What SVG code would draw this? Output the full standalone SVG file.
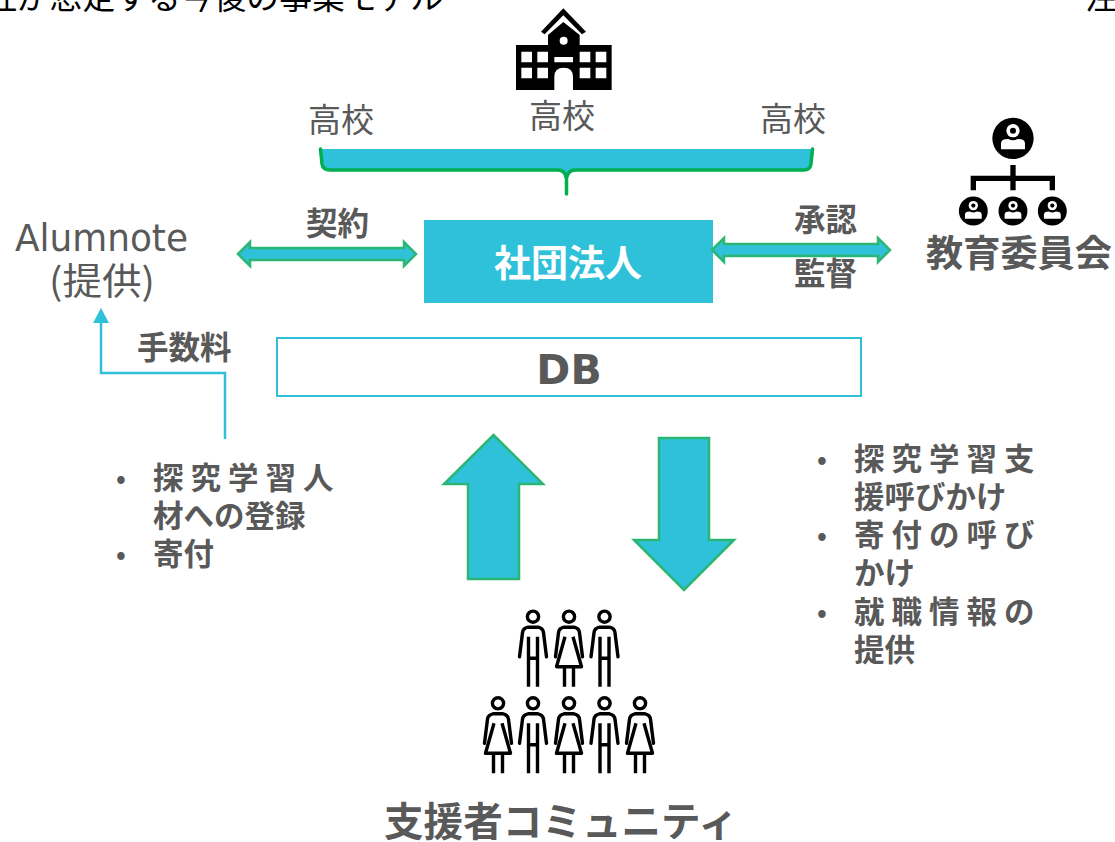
<svg xmlns="http://www.w3.org/2000/svg" xmlns:xlink="http://www.w3.org/1999/xlink" width="1115" height="842" viewBox="0 0 1115 842">
<style>
text{font-family:"Noto Sans CJK JP","DejaVu Sans",sans-serif;fill:#595959}
.b{font-weight:700}
.l{font-size:31.500px;font-weight:700}
.li{font-size:30.500px;font-weight:700}
.dot{font-size:26px;font-weight:700}
.t{font-size:33px;font-weight:400}
.arrow{fill:#2fc1d9;stroke:#2bb673;stroke-width:2.5;stroke-linejoin:miter}
.p{fill:none;stroke:#000;stroke-width:3.400;stroke-linecap:round;stroke-linejoin:round}
</style>
<defs>
<g id="man" class="p">
<circle cx="0" cy="0" r="5.600"/>
<path d="M-13.500 40L-10.500 16Q-10 11.500-5 10.500H5Q10 11.500 10.500 16L13.500 40"/>
<path d="M-4.500 20V70M4.500 20V70M-4.500 41.500H4.500" stroke-linecap="butt"/>
</g>
<g id="woman" class="p">
<circle cx="0" cy="0" r="5.600"/>
<path d="M-13.500 40L-10.500 16Q-10 11.500-5 10.500H5Q10 11.500 10.500 16L13.500 40"/>
<path d="M-4 20L-12.500 50H12.500L4 20M-4.500 50V70M4.500 50V70" stroke-linecap="butt"/>
</g>
<g id="boss">
<circle cx="0" cy="0" r="62" fill="#000"/>
<circle cx="0" cy="-23" r="20" fill="#fff"/>
<circle cx="0" cy="-23" r="9" fill="#000"/>
<path d="M-36 33V16Q-36 5-24 3L-14 2Q0 10 14 2L24 3Q36 5 36 16V33Z" fill="#fff"/>
</g>
</defs>
<text x="-16" y="9" font-size="32.800" style="fill:#000">社が想定する今後の事業モデル</text>
<text x="1085" y="9" font-size="32.800" style="fill:#000">注</text>
<g id="school" transform="translate(480 0) scale(.3333)">
<path d="M108 135H204V105L250 66L299 105V135H395V270H279V230Q279 203 251 203Q223 203 223 230V270H108Z" fill="#000"/>
<path d="M183 95L250 25L318 95L306 103L250 46L194 103Z" fill="#000"/>
<circle cx="251" cy="122" r="12" fill="#fff"/>
<path d="M124 155h32v32h-32zM172 155h32v32h-32zM124 203h32v32h-32zM172 203h32v32h-32zM299 155h32v32h-32zM347 155h32v32h-32zM299 203h32v32h-32zM347 203h32v32h-32zM223 171h56v16h-56z" fill="#fff"/>
</g>
<g id="schools">
<text class="t" x="308" y="132">高校</text>
<text class="t" x="529" y="128">高校</text>
<text class="t" x="760" y="131">高校</text>
<path d="M320 149H813L811 165Q810 170 804 170H575Q568 171 567 178L566.500 194Q566 170 558 170H330Q323 170 322 165Z" fill="#2fc1d9"/>
<path d="M320.500 149L322 164Q323 170 330 170H558Q565 170 566.500 178V194M566.500 194V178Q568 170 575 170H804Q810 170 811 164L812.500 149" fill="none" stroke="#00b050" stroke-width="3.500" stroke-linecap="round"/>
</g>
<g id="committee" transform="translate(920 110) scale(.3333)">
<use xlink:href="#boss" href="#boss" transform="translate(279 85)"/>
<use xlink:href="#boss" href="#boss" transform="translate(160 303) scale(.7)"/>
<use xlink:href="#boss" href="#boss" transform="translate(279 303) scale(.7)"/>
<use xlink:href="#boss" href="#boss" transform="translate(397 303) scale(.7)"/>
<path d="M279 165V241M160 241V205H397V241" fill="none" stroke="#000" stroke-width="16"/>
</g>
<text class="b" x="926" y="267" font-size="37.200">教育委員会</text>
<g id="alumnote">
<text x="15" y="251" font-size="37" textLength="173" lengthAdjust="spacingAndGlyphs" style='font-family:"DejaVu Sans","Noto Sans CJK JP",sans-serif'>Alumnote</text>
<text x="102" y="295" font-size="37" text-anchor="middle" textLength="106" lengthAdjust="spacingAndGlyphs">(提供)</text>
</g>
<g id="corporation">
<rect x="424" y="220" width="289" height="83" fill="#2fc1d9"/>
<text class="b" x="568" y="277" font-size="37" text-anchor="middle" style="fill:#fff">社団法人</text>
</g>
<g id="db">
<rect x="277" y="338" width="584" height="58" fill="#fff" stroke="#2fc1d9" stroke-width="2"/>
<text class="b" x="569" y="384" font-size="41" text-anchor="middle" style='font-family:"DejaVu Sans",sans-serif'>DB</text>
</g>
<g id="connectors">
<path class="arrow" d="M238 254L250 242V248H404V242L416 254L404 266V260H250V266Z"/>
<path class="arrow" d="M712 250L724 238V244H878V238L890 250L878 262V256H724V262Z"/>
<path class="arrow" d="M493.500 435L543 484H519V579H468V484H444Z"/>
<path class="arrow" d="M659 438H709V540H734L684 590L634 540H659Z"/>
<path d="M225 439V373H101V322" fill="none" stroke="#2fc1d9" stroke-width="2.500"/>
<path d="M101 308L109 323H93Z" fill="#2fc1d9"/>
</g>
<text class="l" x="306" y="235">契約</text>
<text class="l" x="137" y="359" font-size="31.500">手数料</text>
<text class="l" x="794" y="231">承認</text>
<text class="l" x="794" y="285">監督</text>
<g id="left-list">
<text class="dot" x="116" y="488">•</text>
<text class="li" x="153" y="489" letter-spacing="7">探究学習人</text>
<text class="li" x="153" y="527">材への登録</text>
<text class="dot" x="116" y="564">•</text>
<text class="li" x="153" y="565">寄付</text>
</g>
<g id="right-list">
<text class="dot" x="817" y="469">•</text>
<text class="li" x="854" y="470" letter-spacing="7">探究学習支</text>
<text class="li" x="854" y="508">援呼びかけ</text>
<text class="dot" x="817" y="545">•</text>
<text class="li" x="854" y="546" letter-spacing="7">寄付の呼び</text>
<text class="li" x="854" y="584">かけ</text>
<text class="dot" x="817" y="622">•</text>
<text class="li" x="854" y="623" letter-spacing="7">就職情報の</text>
<text class="li" x="854" y="661">提供</text>
</g>
<g id="supporters">
<use xlink:href="#man" href="#man" x="533" y="616.700"/>
<use xlink:href="#woman" href="#woman" x="569" y="616.700"/>
<use xlink:href="#man" href="#man" x="604.500" y="616.700"/>
<use xlink:href="#woman" href="#woman" x="498" y="703.300"/>
<use xlink:href="#man" href="#man" x="533" y="703.300"/>
<use xlink:href="#woman" href="#woman" x="569" y="703.300"/>
<use xlink:href="#man" href="#man" x="604.500" y="703.300"/>
<use xlink:href="#woman" href="#woman" x="640" y="703.300"/>
</g>
<text class="b" x="384" y="836" font-size="39.600">支援者コミュニティ</text>
</svg>
